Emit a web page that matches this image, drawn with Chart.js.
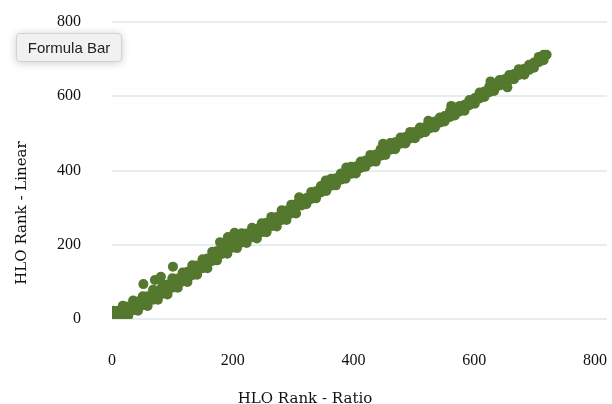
<!DOCTYPE html>
<html>
<head>
<meta charset="utf-8">
<title>HLO Rank</title>
<script src="https://cdn.jsdelivr.net/npm/chart.js@4/dist/chart.umd.min.js"></script>
<style>
  html, body { margin: 0; padding: 0; background: #fff; }
  #wrap { position: relative; width: 612px; height: 404px; }
  #formulaBtn {
    position: absolute; left: 16px; top: 33px; width: 106px; height: 29px;
    font: 15px "Liberation Sans", Arial, sans-serif; color: #222;
    background: #f1f1f1; border: 1px solid #d2d2d2; border-radius: 4px;
    box-shadow: 0 1px 9px rgba(0, 0, 0, 0.2); padding: 0;
  }
</style>
</head>
<body>
<div id="wrap">
  <canvas id="rankChart"></canvas>
  <button id="formulaBtn">Formula Bar</button>
</div>
<script>
// HLO rank under the ratio model (x) vs the linear model (y), one point per player
const ratioRank = [
  2, 10, 18, 27, 35, 43, 51, 59, 68, 76,
  84, 92, 100, 109, 117, 125, 133, 141, 150, 158,
  166, 174, 182, 191, 199, 207, 215, 223, 232, 240,
  248, 256, 264, 273, 281, 289, 297, 305, 314, 322,
  330, 338, 346, 355, 363, 371, 379, 387, 396, 404,
  412, 420, 428, 437, 445, 453, 461, 469, 478, 486,
  494, 502, 510, 519, 527, 535, 543, 551, 560, 568,
  576, 584, 592, 601, 609, 617, 625, 633, 642, 650,
  658, 666, 674, 683, 691, 699, 707, 715, 720,
  2, 18, 35, 51, 68, 84, 100, 117, 133, 150,
  166, 182, 199, 215, 232, 248, 264, 281, 297, 314,
  330, 346, 363, 379, 396, 412, 428, 445, 461, 478,
  494, 510, 527, 543, 560, 576, 592, 609, 625, 642,
  658, 674, 691, 707,
  10, 27, 43, 59, 76, 92, 109, 125, 141, 158,
  174, 191, 207, 223, 240, 256, 273, 289, 305, 322,
  338, 355, 371, 387, 404, 420, 437, 453, 469, 486,
  502, 519, 535, 551, 568, 584, 601, 617, 633, 650,
  666, 683, 699, 715,
  10, 27, 43, 59, 76, 92, 109, 125, 141, 158,
  174, 191, 207, 223, 240, 256, 273, 289, 305, 322,
  338, 355, 371, 387, 404, 420, 437, 453, 469, 486,
  502, 519, 535, 551, 568, 584, 601, 617, 633, 650,
  666, 683, 699, 715,
  2, 18, 35, 51, 68, 84, 100, 117, 133, 150,
  166, 182, 199, 215, 232, 248, 264, 281, 297, 314,
  330, 346, 363, 379, 396, 412, 428, 445, 461, 478,
  494, 510, 527, 543, 560, 576, 592, 609, 625, 642,
  658, 674, 691, 707,
  52, 71, 81, 101, 179, 192, 203, 310, 354, 388,
  449, 524, 562, 627, 655
];

const linearRank = [
  8, 13, 21, 25, 33, 37, 46, 52, 61, 67,
  77, 83, 93, 100, 110, 117, 128, 135, 146, 154,
  166, 173, 185, 193, 202, 207, 215, 220, 229, 234,
  243, 249, 260, 266, 276, 283, 293, 301, 312, 320,
  330, 337, 348, 355, 366, 372, 382, 388, 398, 404,
  414, 420, 430, 436, 446, 452, 463, 469, 478, 484,
  492, 497, 506, 511, 520, 526, 535, 541, 550, 556,
  565, 571, 582, 589, 600, 607, 617, 624, 634, 640,
  648, 654, 663, 668, 677, 686, 697, 706, 712,
  22, 36, 50, 61, 79, 92, 110, 125, 145, 161,
  181, 202, 217, 231, 246, 258, 275, 293, 308, 324,
  342, 358, 378, 392, 410, 424, 442, 457, 474, 489,
  504, 516, 530, 543, 560, 574, 590, 610, 626, 644,
  657, 673, 685, 706,
  1, 9, 22, 35, 52, 66, 84, 100, 119, 137,
  158, 176, 191, 205, 217, 234, 249, 267, 284, 309,
  325, 345, 360, 378, 392, 410, 424, 442, 457, 473,
  487, 503, 516, 532, 548, 561, 580, 598, 614, 631,
  646, 658, 677, 697,
  22, 34, 47, 61, 77, 93, 109, 127, 144, 163,
  183, 202, 216, 230, 243, 259, 275, 292, 310, 326,
  344, 362, 379, 395, 411, 427, 443, 460, 476, 490,
  504, 517, 532, 547, 562, 577, 595, 613, 630, 646,
  660, 674, 691, 712,
  1, 11, 24, 37, 52, 68, 84, 101, 118, 137,
  156, 175, 192, 206, 220, 234, 250, 267, 284, 306,
  323, 341, 359, 375, 391, 407, 423, 440, 456, 472,
  486, 499, 514, 529, 544, 559, 576, 594, 611, 629,
  643, 657, 671, 692,
  94, 105, 114, 141, 207, 221, 232, 328, 373, 408,
  472, 534, 574, 640, 624
];

const rankTicks = [0, 200, 400, 600, 800];

const serif = "'Liberation Serif', 'Times New Roman', serif";
const titleSerif = "'DejaVu Serif', Georgia, serif";

const points = ratioRank.map((x, i) => ({ x, y: linearRank[i] }));

const useTicks = scale => {
  scale.ticks = rankTicks.map(v => ({ value: v }));
};

new Chart(document.getElementById("rankChart"), {
  type: "scatter",
  data: {
    datasets: [{
      label: "HLO Rank",
      data: points,
      backgroundColor: "#54782d",
      borderWidth: 0,
      pointRadius: 5,
      pointHoverRadius: 5
    }]
  },
  options: {
    responsive: true,
    maintainAspectRatio: false,
    animation: false,
    events: [],
    layout: { padding: { top: 22, right: 2, left: 0, bottom: 0 } },
    plugins: {
      legend: { display: false },
      tooltip: { enabled: false },
      title: {
        display: true,
        text: "HLO Rank - Ratio",
        position: "bottom",
        color: "#111",
        font: { family: titleSerif, size: 15, weight: "normal", lineHeight: 1 },
        padding: { top: 3, bottom: -3 }
      },
      subtitle: {
        display: true,
        text: "HLO Rank - Linear",
        position: "left",
        color: "#111",
        font: { family: titleSerif, size: 15, weight: "normal", lineHeight: 1.2 },
        padding: { top: 13, bottom: 0 }
      }
    },
    scales: {
      x: {
        type: "linear",
        min: 0,
        max: 820,
        afterBuildTicks: useTicks,
        afterFit: s => { s.height = 70; s.paddingLeft = 0; s.paddingRight = 0; },
        grid: { display: false },
        border: { display: false },
        ticks: { padding: 24, color: "#111", font: { family: serif, size: 16 } }
      },
      y: {
        type: "linear",
        min: 0,
        max: 800,
        afterBuildTicks: useTicks,
        afterFit: s => { s.width = 81; s.paddingTop = 0; s.paddingBottom = 0; },
        grid: { color: "#e6eded", lineWidth: 2, drawTicks: false },
        border: { display: false },
        ticks: { padding: 31, color: "#111", font: { family: serif, size: 16 } }
      }
    }
  }
});
</script>
</body>
</html>
